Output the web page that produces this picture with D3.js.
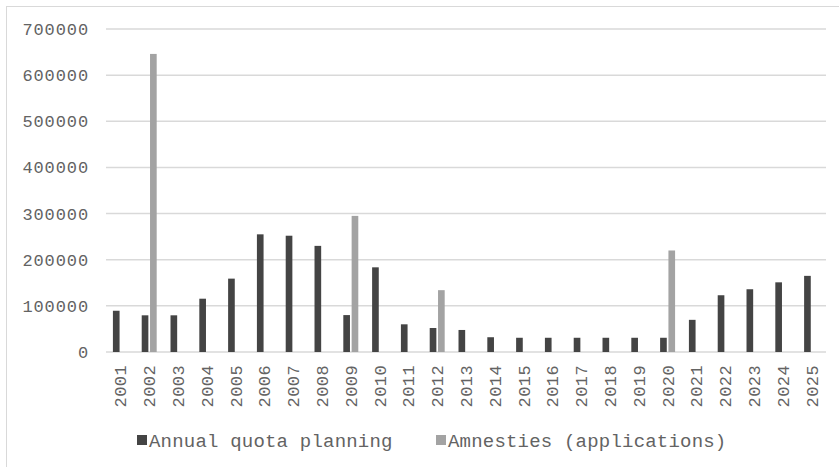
<!DOCTYPE html>
<html>
<head>
<meta charset="utf-8">
<script src="https://cdn.jsdelivr.net/npm/d3@7"></script>
<style>
  body { margin: 0; background: #fff; }
  text { font-family: "Liberation Mono", "Courier New", monospace; fill: #636363; }
</style>
</head>
<body>
<svg class="canvas" width="839" height="467"></svg>
<script>
const years = ["2001", "2002", "2003", "2004", "2005", "2006", "2007", "2008", "2009", "2010",
  "2011", "2012", "2013", "2014", "2015", "2016", "2017", "2018", "2019", "2020",
  "2021", "2022", "2023", "2024", "2025"];
const seriesNames = ["Annual quota planning", "Amnesties (applications)"];
const quota = [89400, 79500, 79500, 115500, 159000, 255000, 252000, 230000, 80000, 183500,
  60000, 52000, 47750, 32000, 30850, 30850, 30850, 30850, 30850, 30850,
  69700, 123000, 136000, 151000, 165000];
const amnesties = [0, 646000, 0, 0, 0, 0, 0, 0, 295000, 0,
  0, 134000, 0, 0, 0, 0, 0, 0, 0, 220000,
  0, 0, 0, 0, 0];
const yTicks = [0, 100000, 200000, 300000, 400000, 500000, 600000, 700000];
const colors = ["#444444", "#a3a3a3"];

const svg = d3.select(".canvas");
const margin = { left: 106, right: 13, top: 29, bottom: 115 };
const width = 839, height = 467;

// chart area border
svg.append("rect")
  .attr("x", 6.5).attr("y", 6.5)
  .attr("width", 900).attr("height", 600)
  .attr("fill", "none")
  .attr("stroke", "#d9d9d9");

const x = d3.scaleBand()
  .domain(years)
  .range([margin.left, width - margin.right])
  .paddingInner(0.48)
  .paddingOuter(0.24);

const xInner = d3.scaleBand()
  .domain(seriesNames)
  .range([0, x.bandwidth()])
  .paddingInner(0.2);

const y = d3.scaleLinear()
  .domain([0, 700000])
  .range([height - margin.bottom, margin.top]);

// gridlines
svg.append("g")
  .selectAll("line")
  .data(yTicks)
  .enter()
  .append("line")
  .attr("x1", margin.left)
  .attr("x2", width - margin.right)
  .attr("y1", d => y(d))
  .attr("y2", d => y(d))
  .attr("stroke", "#d9d9d9")
  .attr("stroke-width", 1.5);

// y labels
svg.append("g")
  .selectAll("text")
  .data(yTicks)
  .enter()
  .append("text")
  .attr("x", 89)
  .attr("y", d => y(d))
  .attr("dy", "0.35em")
  .attr("text-anchor", "end")
  .style("font-size", "17px")
  .style("letter-spacing", "0.9px")
  .text(d => d);

const rows = years.map((yr, i) => ({ year: yr, values: [quota[i], amnesties[i]] }));

const groups = svg.append("g")
  .selectAll("g")
  .data(rows)
  .enter()
  .append("g")
  .attr("transform", d => `translate(${x(d.year)},0)`);

groups.selectAll("rect")
  .data(d => d.values.map((v, j) => ({ name: seriesNames[j], value: v, idx: j })))
  .enter()
  .filter(d => d.value > 0)
  .append("rect")
  .attr("x", d => xInner(d.name))
  .attr("width", xInner.bandwidth())
  .attr("y", d => y(d.value))
  .attr("height", d => y(0) - y(d.value))
  .attr("fill", d => colors[d.idx]);

// x labels, rotated
svg.append("g")
  .selectAll("text")
  .data(years)
  .enter()
  .append("text")
  .attr("transform", d => `translate(${x(d) + x.bandwidth() / 2},365) rotate(-90)`)
  .attr("dy", "0.35em")
  .attr("text-anchor", "end")
  .style("font-size", "17px")
  .style("letter-spacing", "0.4px")
  .text(d => d);

// legend
const legendX = [137, 436];
const legend = svg.append("g")
  .selectAll("g")
  .data(seriesNames)
  .enter()
  .append("g")
  .attr("transform", (d, i) => `translate(${legendX[i]},440)`);

legend.append("rect")
  .attr("x", 0).attr("y", -5)
  .attr("width", 10).attr("height", 10)
  .attr("fill", (d, i) => colors[i]);

legend.append("text")
  .attr("x", 12)
  .attr("dy", "0.35em")
  .style("font-size", "19px")
  .style("letter-spacing", "0.2px")
  .text(d => d);
</script>
</body>
</html>
